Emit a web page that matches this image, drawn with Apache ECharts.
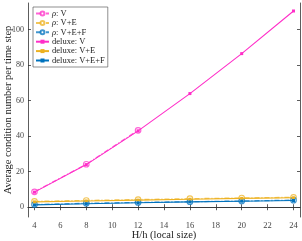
<!DOCTYPE html>
<html><head><meta charset="utf-8">
<script src="https://cdn.jsdelivr.net/npm/echarts@6/dist/echarts.min.js"></script>
<style>html,body{margin:0;padding:0;background:#fff}#c{width:302px;height:241px}</style>
</head><body><div id="c"></div>
<script>
const xValues = [4, 8, 12, 16, 20, 24];
const xTicks = [4, 6, 8, 10, 12, 14, 16, 18, 20, 22, 24];
const yTicks = [0, 20, 40, 60, 80, 100];
const rhoV = [8.7, 24.2, 43.3];
const rhoVE = [3.3, 3.8, 4.3, 4.8, 5.2, 5.6];
const rhoVEF = [1.5, 2.2, 2.7, 3.1, 3.5, 4.0];
const deluxeV = [8.5, 24.0, 43.0, 64.0, 86.5, 110.5];
const deluxeVE = [3.0, 3.5, 4.0, 4.5, 5.0, 5.3];
const deluxeVEF = [1.3, 2.0, 2.5, 3.0, 3.4, 3.8];
const seriesNames = ['ρ: V', 'ρ: V+E', 'ρ: V+E+F', 'deluxe: V', 'deluxe: V+E', 'deluxe: V+E+F'];
const xTitle = 'H/h (local size)';
const yTitle = 'Average condition number per time step';

const PINK = '#ff2ec8', ORANGE = '#edb120', BLUE = '#0072bd';
const FONT = '"Liberation Serif", "DejaVu Serif", serif';
const AX = '#333';
const pair = (xs, ys) => ys.map((v, i) => [xs[i], v]);

function rhoSeries(name, data, color) {
  return { name, type: 'line', data: pair(xValues, data), symbol: 'circle', symbolSize: 5.5,
    itemStyle: { color: '#fff', borderColor: color, borderWidth: 1.2, opacity: 0.75 },
    lineStyle: { color, width: 1.3, type: [5, 2, 1, 2], opacity: 0.75 }, z: 3 };
}
function delSeries(name, data, color) {
  return { name, type: 'line', data: pair(xValues, data), symbol: 'rect', symbolSize: 3,
    itemStyle: { color }, lineStyle: { color, width: 1.1 }, z: 4 };
}
const axCommon = {
  axisLine: { show: true, lineStyle: { color: AX, width: 0.8 } },
  axisTick: { show: true, inside: true, length: 3, lineStyle: { color: AX, width: 0.8 } },
  splitLine: { show: false }
};
const chart = echarts.init(document.getElementById('c'), null, { renderer: 'canvas' });
chart.setOption({
  animation: false,
  grid: { left: 28, right: 2, top: 3, bottom: 24, containLabel: false, outerBoundsMode: 'none' },
  xAxis: [
    Object.assign({}, axCommon, { type: 'value', min: 3.5, max: 24.5, position: 'bottom',
      name: xTitle, nameLocation: 'middle', nameGap: 13, nameMoveOverlap: false,
      nameTextStyle: { fontFamily: FONT, fontSize: 10.5, color: '#222' },
      axisTick: Object.assign({}, axCommon.axisTick, { customValues: xTicks }),
      axisLabel: { customValues: xTicks, fontFamily: FONT, fontSize: 8.5, color: '#444', margin: 4 } }),
    Object.assign({}, axCommon, { type: 'value', min: 3.5, max: 24.5, position: 'top',
      axisTick: Object.assign({}, axCommon.axisTick, { customValues: xTicks }),
      axisLabel: { show: false } })
  ],
  yAxis: [
    Object.assign({}, axCommon, { type: 'value', min: -5.5, max: 115, position: 'left',
      name: yTitle, nameLocation: 'middle', nameGap: 14, nameMoveOverlap: false,
      nameTextStyle: { fontFamily: FONT, fontSize: 10.5, color: '#222' },
      axisTick: Object.assign({}, axCommon.axisTick, { customValues: yTicks }),
      axisLabel: { customValues: yTicks, fontFamily: FONT, fontSize: 8, color: '#444', margin: 4 } }),
    Object.assign({}, axCommon, { type: 'value', min: -5.5, max: 115, position: 'right',
      axisTick: Object.assign({}, axCommon.axisTick, { customValues: yTicks }),
      axisLabel: { show: false } })
  ],
  legend: {
    orient: 'vertical', left: 33, top: 7, itemWidth: 13, itemHeight: 5, itemGap: 0.4,
    padding: [2, 3, 2, 2], borderColor: '#444', borderWidth: 0.6, backgroundColor: '#fff',
    formatter: n => n.startsWith('ρ') ? '{i|ρ}' + n.slice(1) : n,
    textStyle: { fontFamily: FONT, fontSize: 8.5, lineHeight: 9, color: '#222', padding: [0, 0, 0, -2],
      rich: { i: { fontFamily: FONT, fontSize: 8.5, fontStyle: 'italic', color: '#222', lineHeight: 9 } } },
    data: seriesNames
  },
  series: [
    rhoSeries(seriesNames[0], rhoV, PINK),
    rhoSeries(seriesNames[1], rhoVE, ORANGE),
    rhoSeries(seriesNames[2], rhoVEF, BLUE),
    delSeries(seriesNames[3], deluxeV, PINK),
    delSeries(seriesNames[4], deluxeVE, ORANGE),
    delSeries(seriesNames[5], deluxeVEF, BLUE)
  ]
});
</script></body></html>
